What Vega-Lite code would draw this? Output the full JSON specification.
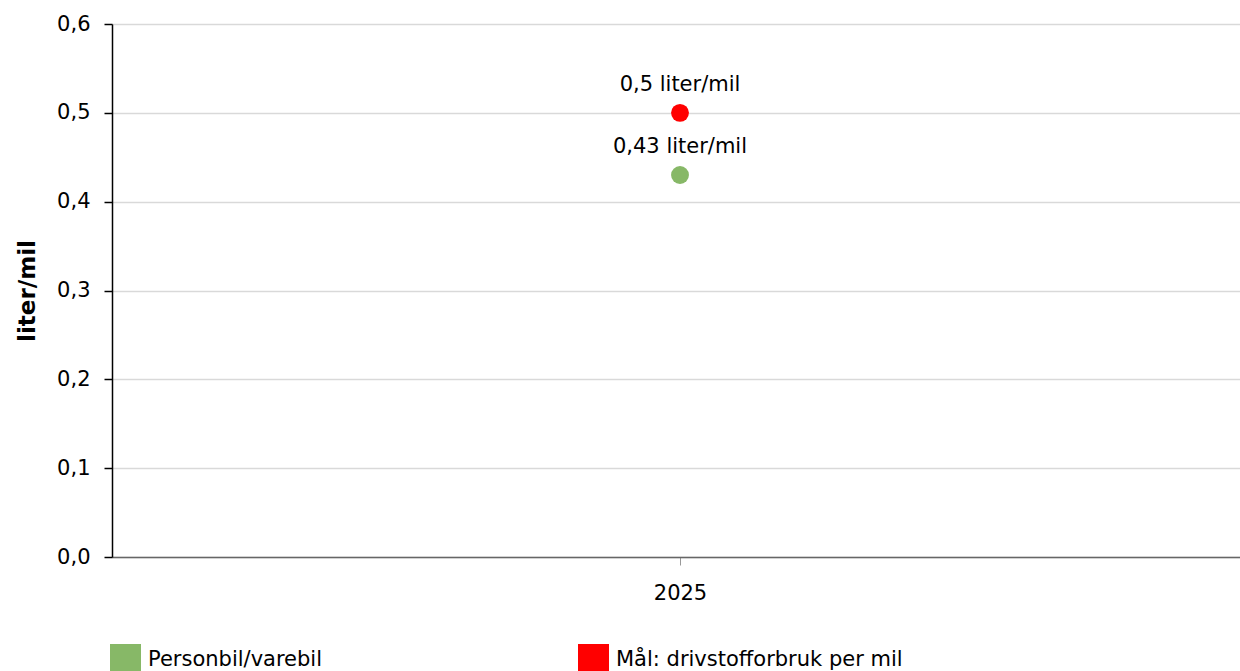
{
  "$schema": "https://vega.github.io/schema/vega-lite/v6.json",
  "autosize": {"type": "none"},
  "width": 1136,
  "height": 533,
  "padding": {"left": 112, "top": 24, "right": 0, "bottom": 114},
  "background": "white",
  "config": {
    "font": "DejaVu Sans",
    "view": {"stroke": null},
    "locale": {
      "number": {"decimal": ",", "thousands": " ", "grouping": [3], "currency": ["", " liter/mil"]},
      "time": {"dateTime": "%a %b %e %X %Y", "date": "%d.%m.%Y", "time": "%H:%M:%S", "periods": ["AM", "PM"], "days": ["søndag", "mandag", "tirsdag", "onsdag", "torsdag", "fredag", "lørdag"], "shortDays": ["søn", "man", "tir", "ons", "tor", "fre", "lør"], "months": ["januar", "februar", "mars", "april", "mai", "juni", "juli", "august", "september", "oktober", "november", "desember"], "shortMonths": ["jan", "feb", "mar", "apr", "mai", "jun", "jul", "aug", "sep", "okt", "nov", "des"]}
    }
  },
  "data": {
    "values": [
      {"year": "2025", "serie": "Personbil/varebil", "value": 0.43},
      {"year": "2025", "serie": "Mål: drivstofforbruk per mil", "value": 0.5}
    ]
  },
  "encoding": {
    "x": {
      "field": "year", "type": "nominal",
      "scale": {"type": "point", "padding": 0.5},
      "axis": {
        "title": null, "labelAngle": 0, "labelFontSize": 21, "labelColor": "#000",
        "domainColor": "#666", "domainWidth": 1.5, "tickColor": "#999", "tickSize": 8,
        "labelPadding": 17, "grid": false
      }
    },
    "y": {
      "field": "value", "type": "quantitative",
      "scale": {"domain": [0, 0.6]},
      "axis": {
        "title": "liter/mil", "titleFontSize": 23, "titleFontWeight": "bold", "titleColor": "#000",
        "titleX": -73,
        "values": [0, 0.1, 0.2, 0.3, 0.4, 0.5, 0.6], "format": ".1f",
        "labelFontSize": 21, "labelColor": "#000", "labelPadding": 14,
        "domainColor": "#000", "domainWidth": 1.5, "tickColor": "#000", "tickSize": 8, "tickWidth": 1.5,
        "gridColor": "#d9d9d9", "gridWidth": 1.5
      }
    }
  },
  "layer": [
    {
      "mark": {"type": "point", "filled": true, "opacity": 1, "size": 320},
      "encoding": {
        "color": {
          "field": "serie", "type": "nominal",
          "scale": {"domain": ["Personbil/varebil", "Mål: drivstofforbruk per mil"], "range": ["#87b867", "#ff0000"]},
          "legend": {
            "title": null, "orient": "none", "legendX": -2, "legendY": 620, "direction": "horizontal",
            "symbolType": "square", "symbolSize": 961, "symbolStrokeWidth": 0, "symbolOpacity": 1,
            "labelFontSize": 21, "labelColor": "#000", "labelOffset": 7, "columnPadding": 255, "labelLimit": 500
          }
        }
      }
    },
    {
      "mark": {"type": "text", "dy": -28, "fontSize": 21, "color": "#000"},
      "encoding": {
        "text": {"field": "value", "type": "quantitative", "format": "$.2~f"}
      }
    }
  ]
}
